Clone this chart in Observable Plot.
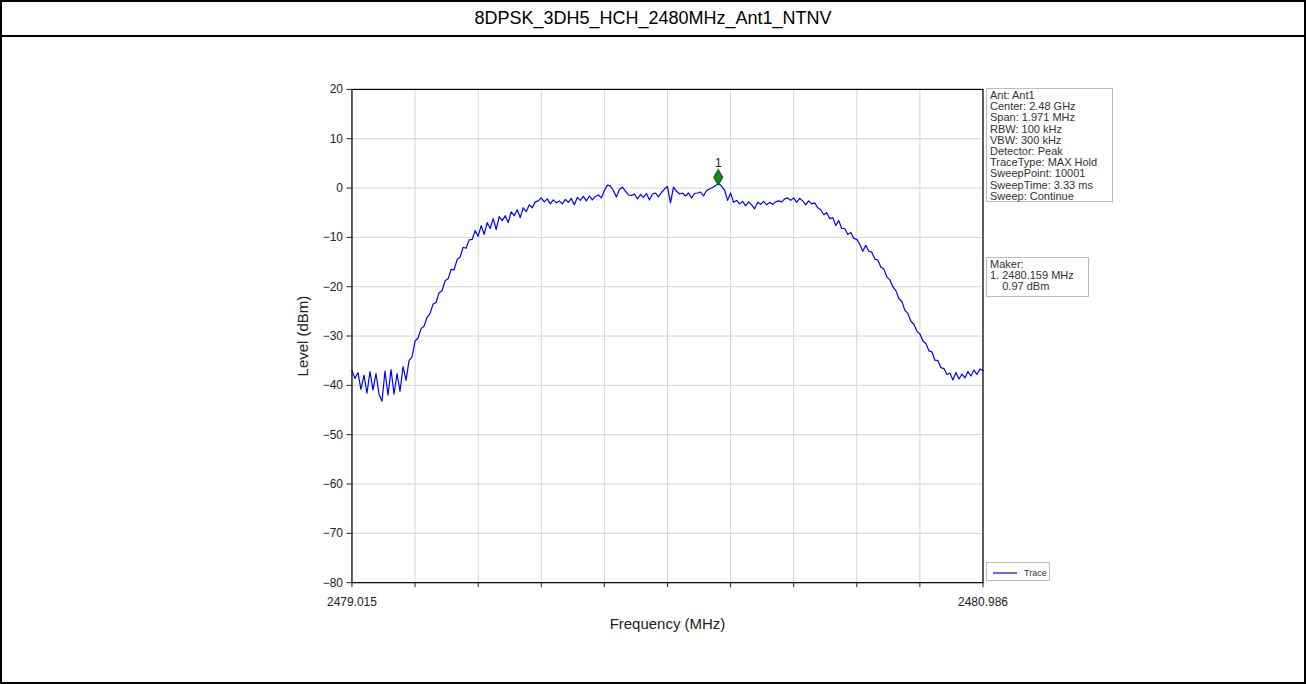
<!DOCTYPE html>
<html>
<head>
<meta charset="utf-8">
<script src="https://cdn.jsdelivr.net/npm/d3@7"></script>
<script src="https://cdn.jsdelivr.net/npm/@observablehq/plot@0.6"></script>
<style>
  html, body { margin: 0; padding: 0; background: #fff; }
  #page { position: relative; width: 1306px; height: 684px; box-sizing: border-box; border: 2px solid #000; font-family: "Liberation Sans", Arial, sans-serif; overflow: hidden; }
  #title { position: absolute; left: 0; top: 0; width: 100%; height: 33px; border-bottom: 2px solid #000; text-align: center; font-size: 18px; line-height: 33px; color: #000; }
  #chart { position: absolute; left: -2px; top: 34px; }
  .box { position: absolute; border: 1px solid #bdbdbd; background: #fff; font-size: 11px; line-height: 11.2px; color: #333; padding: 1px 3px; white-space: pre; }
  #chart svg text { font-family: "Liberation Sans", Arial, sans-serif; }
  g[aria-label="y-axis label"] text, g[aria-label="x-axis label"] text { font-size: 15px; fill: #222; }
</style>
</head>
<body>
<div id="page">
  <div id="title"></div>
  <div id="chart"></div>
  <div class="box" id="info" style="left:984px; top:86px; width:119px; height:110px;"></div>
  <div class="box" id="maker" style="left:984px; top:255px; width:95px; height:36px;"></div>
  <div class="box" id="legend" style="left:984px; top:560px; width:62px; height:17px; padding:0;"></div>
</div>
<script>
const titleText = "8DPSK_3DH5_HCH_2480MHz_Ant1_NTNV";
const xLabel = "Frequency (MHz)";
const yLabel = "Level (dBm)";
const fStart = 2479.015;
const fStop = 2480.986;
const xTickLabels = ["2479.015", "2480.986"];
const yTicks = [20, 10, 0, -10, -20, -30, -40, -50, -60, -70, -80];
const infoLines = ["Ant: Ant1", "Center: 2.48 GHz", "Span: 1.971 MHz", "RBW: 100 kHz", "VBW: 300 kHz", "Detector: Peak", "TraceType: MAX Hold", "SweepPoint: 10001", "SweepTime: 3.33 ms", "Sweep: Continue"];
const makerLines = ["Maker:", "1. 2480.159 MHz", "    0.97 dBm"];
const markerFreq = [2480.159];
const markerLevel = [0.97];
const markerLabel = ["1"];
const legendLabel = "Trace";

// Trace levels (dBm), equally spaced sweep points from fStart to fStop
const levels = [
 -37.0,-38.6,-37.4,-40.8,-37.9,-41.6,-37.2,-40.9,-37.6,-41.8,
 -43.2,-37.1,-42.0,-36.8,-41.8,-37.6,-41.2,-36.2,-39.0,-35.0,
 -34.2,-31.0,-30.4,-28.5,-28.0,-26.2,-25.4,-23.5,-23.2,-21.2,
 -20.8,-18.8,-18.4,-16.5,-16.6,-14.5,-14.0,-12.0,-12.2,-10.5,
 -10.4,-8.6,-9.8,-7.6,-9.4,-7.0,-8.2,-6.2,-8.4,-5.8,
 -6.6,-5.6,-7.0,-4.8,-5.6,-4.4,-6.0,-4.0,-4.8,-3.4,
 -4.0,-2.8,-2.6,-2.0,-2.8,-2.2,-3.2,-2.4,-3.0,-2.6,
 -3.2,-2.3,-2.9,-2.1,-3.4,-1.9,-2.5,-1.7,-2.6,-1.6,
 -2.4,-1.7,-1.4,-2.0,-0.5,0.6,0.4,-0.5,-1.8,-0.3,
 0.2,-0.6,-1.4,-1.5,-1.2,-2.2,-1.3,-1.9,-1.1,-2.4,
 -1.2,-1.0,-1.8,-0.9,-0.2,0.3,-3.0,0.2,-0.6,-1.2,
 -1.0,-1.6,-1.0,-2.0,-1.1,-1.0,-0.8,-1.6,-0.5,-0.2,
 0.1,0.5,0.97,0.4,-0.4,-2.5,-1.0,-2.9,-2.5,-3.2,
 -2.7,-3.6,-2.8,-3.4,-4.2,-2.9,-3.3,-2.7,-3.4,-2.9,
 -3.3,-2.8,-2.6,-2.8,-2.2,-2.0,-2.5,-2.0,-2.9,-2.1,
 -2.6,-3.4,-2.6,-3.2,-3.0,-4.0,-4.4,-5.4,-5.0,-6.2,
 -6.0,-7.6,-6.6,-8.2,-8.2,-9.4,-9.0,-10.2,-10.4,-11.4,
 -12.8,-11.6,-12.8,-13.0,-14.4,-14.6,-16.0,-16.4,-18.0,-18.6,
 -20.0,-20.8,-22.4,-23.0,-24.8,-25.4,-27.0,-27.6,-29.0,-29.6,
 -31.0,-31.5,-33.0,-33.2,-34.9,-35.0,-36.4,-36.6,-37.8,-37.5,
 -38.9,-37.4,-38.7,-37.7,-38.5,-37.2,-38.1,-36.9,-37.8,-36.7,
 -37.0
];

document.getElementById("title").textContent = titleText;
document.getElementById("info").textContent = infoLines.join("\n");
document.getElementById("maker").textContent = makerLines.join("\n");

const n = levels.length;
const trace = levels.map((v, i) => ({f: fStart + i * (fStop - fStart) / (n - 1), v}));
const xTicks = d3.range(11).map(k => fStart + k * (fStop - fStart) / 10);
const markers = markerFreq.map((f, i) => ({f, v: markerLevel[i], label: markerLabel[i]}));
const xFmt = (d, i) => i === 0 ? xTickLabels[0] : (i === xTicks.length - 1 ? xTickLabels[1] : "");

const chart = Plot.plot({
  width: 1306,
  height: 640,
  marginLeft: 352,
  marginRight: 322,
  marginTop: 53,
  marginBottom: 93,
  style: {fontSize: "12px", background: "transparent", color: "#222"},
  x: {domain: [fStart, fStop]},
  y: {domain: [-80, 20]},
  marks: [
    Plot.gridX(xTicks, {stroke: "#d4d4d4", strokeOpacity: 1}),
    Plot.gridY(yTicks, {stroke: "#d4d4d4", strokeOpacity: 1}),
    Plot.line(trace, {x: "f", y: "v", stroke: "#0000ff", strokeWidth: 1.2}),
    Plot.dot(markers, {x: "f", y: "v", symbol: "diamond", fill: "#1a8a1a", stroke: "#136b13", r: 4.5, dy: -6}),
    Plot.text(markers, {x: "f", y: "v", text: "label", dy: -20, fontSize: 12, fill: "#222"}),
    Plot.frame({stroke: "#000", strokeWidth: 1.2}),
    Plot.axisX({ticks: xTicks, tickSize: 5, tickPadding: 10, tickFormat: xFmt,
      label: xLabel, labelAnchor: "center", labelArrow: "none", labelOffset: 46}),
    Plot.axisY({ticks: yTicks, tickSize: 5, label: yLabel, labelAnchor: "center", labelArrow: "none", labelOffset: 55})
  ]
});
document.getElementById("chart").appendChild(chart);

// legend
const leg = d3.select("#legend").append("svg").attr("width", 62).attr("height", 17);
leg.append("line").attr("x1", 6).attr("x2", 30).attr("y1", 10).attr("y2", 10).attr("stroke", "#0000ff").attr("stroke-width", 1.2);
leg.append("text").attr("x", 37).attr("y", 13).attr("font-size", 9).attr("fill", "#333")
  .attr("font-family", "Liberation Sans, Arial, sans-serif").text(legendLabel);
</script>
</body>
</html>
